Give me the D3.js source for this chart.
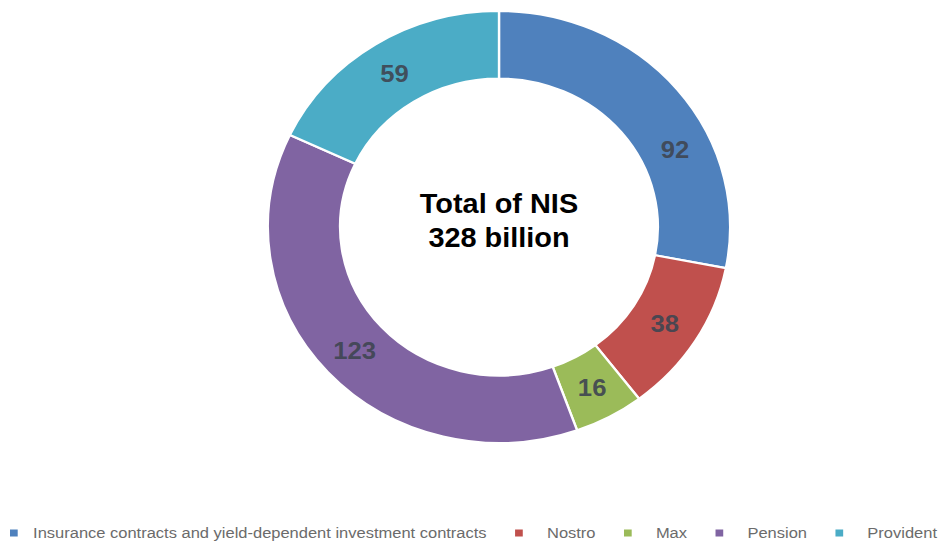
<!DOCTYPE html>
<html>
<head>
<meta charset="utf-8">
<script src="https://cdn.jsdelivr.net/npm/d3@7/dist/d3.min.js"></script>
<style>
  html, body { margin: 0; padding: 0; background: #ffffff; }
  svg { display: block; font-family: Arial, "Liberation Sans", sans-serif; }
</style>
</head>
<body>
<svg id="chart" width="946" height="547"></svg>
<script>
// Portfolio breakdown, NIS billion
const categories = [
  "Insurance contracts and yield-dependent investment contracts",
  "Nostro",
  "Max",
  "Pension",
  "Provident"
];
const values = [92, 38, 16, 123, 59];
const colors = ["#4F81BD", "#C0504D", "#9BBB59", "#8064A2", "#4BACC6"];
const centerLines = ["Total of NIS", "328 billion"];

const W = 946, H = 547;
const cx = 499, cy = 227;
const outerR = 216, innerR = 148.5;
const stretchX = 1.07;           // the ring is drawn slightly wider than tall
const labelShiftDeg = [14, 0, 0, 0, 0];

const svg = d3.select("#chart");

const pie = d3.pie().sort(null).value(d => d.value);
const arcs = pie(categories.map((c, i) => ({ name: c, value: values[i], color: colors[i] })));

const arc = d3.arc().innerRadius(innerR).outerRadius(outerR);

const ring = svg.append("g")
  .attr("transform", `translate(${cx},${cy}) scale(${stretchX},1)`);

ring.selectAll("path.slice")
  .data(arcs)
  .join("path")
  .attr("class", "slice")
  .attr("d", arc)
  .attr("fill", d => d.data.color)
  .attr("stroke", "#ffffff")
  .attr("stroke-width", 2.2)
  .attr("stroke-linejoin", "miter");

// value labels on the ring
const midR = (innerR + outerR) / 2;
ring.selectAll("text.val")
  .data(arcs)
  .join("text")
  .attr("class", "val")
  .each(function (d, i) {
    const a = (d.startAngle + d.endAngle) / 2 + labelShiftDeg[i] * Math.PI / 180;
    d3.select(this)
      .attr("x", midR * Math.sin(a))
      .attr("y", -midR * Math.cos(a) + 1);
  })
  .attr("text-anchor", "middle")
  .attr("dominant-baseline", "central")
  .attr("font-size", 24)
  .attr("font-weight", "bold")
  .attr("fill", "#3f4652")
  .attr("fill-opacity", 0.92)
  .text(d => d.data.value);

// centre caption
ring.selectAll("text.center")
  .data(centerLines)
  .join("text")
  .attr("class", "center")
  .attr("x", 0)
  .attr("y", (d, i) => -14 + i * 34)
  .attr("text-anchor", "middle")
  .attr("font-size", 27)
  .attr("font-weight", "bold")
  .attr("fill", "#000000")
  .text(d => d);

// legend along the bottom, laid out in local units then widened
const legendY = 533;
const legendStretch = 1.1;
const legendLeft = 10 / legendStretch, legendRight = 937 / legendStretch;
const sq = 7, sqGap = 22;

const legend = svg.append("g")
  .attr("class", "legend")
  .attr("transform", `scale(${legendStretch},1)`);
const items = legend.selectAll("g.item")
  .data(arcs.map(a => a.data))
  .join("g")
  .attr("class", "item");

items.append("rect")
  .attr("width", sq)
  .attr("height", 7)
  .attr("y", legendY - 3.5)
  .attr("fill", d => d.color);

items.append("text")
  .attr("y", legendY)
  .attr("dominant-baseline", "central")
  .attr("font-size", 15)
  .attr("fill", "#6b6b6b")
  .text(d => d.name);

const widths = [];
items.select("text").each(function () { widths.push(this.getComputedTextLength()); });
const gaps = widths.map((w, i) => (i === 0 ? 14 : sqGap));
const used = widths.reduce((s, w, i) => s + w + sq + gaps[i], 0);
const between = (legendRight - legendLeft - used) / (widths.length - 1);

let xPos = legendLeft;
items.each(function (d, i) {
  const g = d3.select(this);
  g.select("rect").attr("x", xPos);
  g.select("text").attr("x", xPos + sq + gaps[i]);
  xPos += sq + gaps[i] + widths[i] + between;
});
</script>
</body>
</html>
